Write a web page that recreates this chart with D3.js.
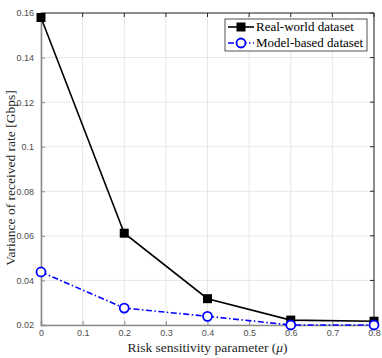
<!DOCTYPE html>
<html>
<head>
<meta charset="utf-8">
<script src="https://cdn.jsdelivr.net/npm/d3@7"></script>
<style>
  body { margin: 0; background: #fff; }
  svg { display: block; }
  .serif { font-family: "Liberation Serif", "Times New Roman", "DejaVu Serif", serif; }
</style>
</head>
<body>
<div id="chart"></div>
<script>
const width = 382;
const height = 358;

const mu = [0, 0.2, 0.4, 0.6, 0.8];
const realWorld = [0.158, 0.0612, 0.0318, 0.0222, 0.0217];
const modelBased = [0.0438, 0.0276, 0.0239, 0.0200, 0.0200];
const xTicks = [0, 0.1, 0.2, 0.3, 0.4, 0.5, 0.6, 0.7, 0.8];
const yTicks = [0.02, 0.04, 0.06, 0.08, 0.1, 0.12, 0.14, 0.16];
const seriesNames = ["Real-world dataset", "Model-based dataset"];

(function main(){
    const m = {left: 41, right: 8, top: 13, bottom: 33};

    const svg = d3.select("#chart")
        .append("svg")
        .attr("width", width)
        .attr("height", height);

    const x = d3.scaleLinear()
        .domain([0, 0.8])
        .range([m.left, width - m.right]);

    const y = d3.scaleLinear()
        .domain([0.02, 0.16])
        .range([height - m.bottom, m.top]);

    // grid
    svg.append("g")
        .selectAll("line.gx")
        .data(xTicks)
        .join("line")
        .attr("x1", d => x(d)).attr("x2", d => x(d))
        .attr("y1", y(0.02)).attr("y2", y(0.16))
        .attr("stroke", "#e6e6e6").attr("stroke-width", 1);

    svg.append("g")
        .selectAll("line.gy")
        .data(yTicks)
        .join("line")
        .attr("y1", d => y(d)).attr("y2", d => y(d))
        .attr("x1", x(0)).attr("x2", x(0.8))
        .attr("stroke", "#e6e6e6").attr("stroke-width", 1);

    // box top/right
    svg.append("path")
        .attr("d", `M${x(0)},${y(0.16)}H${x(0.8)}V${y(0.02)}`)
        .attr("fill", "none").attr("stroke", "#262626").attr("stroke-width", 1);

    // axes
    const xAxis = svg.append("g")
        .attr("transform", `translate(0,${y(0.02)})`)
        .call(d3.axisBottom(x).tickValues(xTicks).tickSize(-4).tickPadding(5)
            .tickFormat(d => d3.format("~g")(d)));
    const yAxis = svg.append("g")
        .attr("transform", `translate(${x(0)},0)`)
        .call(d3.axisLeft(y).tickValues(yTicks).tickSize(-4).tickPadding(7)
            .tickFormat(d => d3.format("~g")(d)));

    // top / right ticks
    svg.append("g")
        .selectAll("line")
        .data(xTicks)
        .join("line")
        .attr("x1", d => x(d)).attr("x2", d => x(d))
        .attr("y1", y(0.16)).attr("y2", y(0.16) + 4)
        .attr("stroke", "#262626");
    svg.append("g")
        .selectAll("line")
        .data(yTicks)
        .join("line")
        .attr("y1", d => y(d)).attr("y2", d => y(d))
        .attr("x1", x(0.8)).attr("x2", x(0.8) - 4)
        .attr("stroke", "#262626");

    [xAxis, yAxis].forEach(g => {
        g.select(".domain").attr("stroke", "#8c8c8c").attr("stroke-width", 1.6);
        g.selectAll(".tick line").attr("stroke", "#8c8c8c");
        g.selectAll("text")
            .attr("fill", "#4d4d4d")
            .style("font-family", "'Liberation Sans', Arial, sans-serif")
            .style("font-size", "9px");
    });

    // lines
    const line = d3.line()
        .x((d, i) => x(mu[i]))
        .y(d => y(d));

    svg.append("path")
        .datum(modelBased)
        .attr("fill", "none")
        .attr("stroke", "#0000ff")
        .attr("stroke-width", 1.6)
        .attr("stroke-dasharray", "6,2.5,1.5,2.5")
        .attr("d", line);

    svg.append("path")
        .datum(realWorld)
        .attr("fill", "none")
        .attr("stroke", "#000")
        .attr("stroke-width", 1.6)
        .attr("d", line);

    svg.append("g")
        .selectAll("rect")
        .data(realWorld)
        .join("rect")
        .attr("x", (d, i) => x(mu[i]) - 4.5)
        .attr("y", d => y(d) - 4.5)
        .attr("width", 9).attr("height", 9)
        .attr("fill", "#000");

    svg.append("g")
        .selectAll("circle")
        .data(modelBased)
        .join("circle")
        .attr("cx", (d, i) => x(mu[i]))
        .attr("cy", d => y(d))
        .attr("r", 4.5)
        .attr("fill", "#fff")
        .attr("stroke", "#0000ff")
        .attr("stroke-width", 1.8);

    // legend
    const lg = svg.append("g").attr("transform", "translate(225,19)");
    lg.append("rect")
        .attr("width", 142).attr("height", 32)
        .attr("fill", "#fff").attr("stroke", "#262626").attr("stroke-width", 0.8);
    seriesNames.forEach((name, i) => {
        const ly = 8 + i * 16;
        const row = lg.append("g").attr("transform", `translate(0,${ly})`);
        row.append("line")
            .attr("x1", 3).attr("x2", 29)
            .attr("stroke", i ? "#0000ff" : "#000")
            .attr("stroke-width", 1.6)
            .attr("stroke-dasharray", i ? "6,2.5,1.5,2.5" : null);
        if (i) {
            row.append("circle").attr("cx", 16).attr("r", 4.5)
                .attr("fill", "#fff").attr("stroke", "#0000ff").attr("stroke-width", 1.8);
        } else {
            row.append("rect").attr("x", 11.5).attr("y", -4.5)
                .attr("width", 9).attr("height", 9).attr("fill", "#000");
        }
        row.append("text")
            .attr("class", "serif")
            .attr("x", 31).attr("y", 4)
            .style("font-size", "13px")
            .text(name);
    });

    // axis labels
    const xl = svg.append("text")
        .attr("class", "serif")
        .attr("x", (x(0) + x(0.8)) / 2)
        .attr("y", height - 6)
        .attr("text-anchor", "middle")
        .style("font-size", "13.5px")
        .attr("fill", "#262626");
    xl.append("tspan").text("Risk sensitivity parameter (");
    xl.append("tspan").style("font-style", "italic").text("μ");
    xl.append("tspan").text(")");

    svg.append("text")
        .attr("class", "serif")
        .attr("transform", `translate(15,${(y(0.02) + y(0.16)) / 2 + 9}) rotate(-90)`)
        .attr("text-anchor", "middle")
        .style("font-size", "13.5px")
        .attr("fill", "#262626")
        .text("Variance of received rate [Gbps]");
})();
</script>
</body>
</html>
